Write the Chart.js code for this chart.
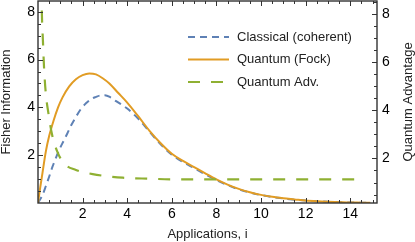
<!DOCTYPE html>
<html>
<head>
<meta charset="utf-8">
<script src="https://cdn.jsdelivr.net/npm/chart.js@4/dist/chart.umd.min.js"></script>
<style>
  html, body { margin: 0; padding: 0; background: #fff; }
</style>
</head>
<body>
<canvas id="chart" width="415" height="242"></canvas>
<script>
// values
let coherentX = [0, 0.2, 0.35, 0.5, 0.65, 0.8, 0.95, 1.15, 1.32, 1.5, 1.7, 1.9, 2.15, 2.4, 2.6, 2.8, 3.0, 3.25, 3.5, 4.0, 4.5, 5.0, 5.5, 6.0, 6.5, 7.0, 7.5, 8.0, 8.5, 9.0, 9.5, 10, 11, 12, 13, 14, 14.9];
let coherentY = [0, 0.33, 0.7, 1.1, 1.52, 1.88, 2.22, 2.6, 2.92, 3.27, 3.6, 3.9, 4.17, 4.36, 4.44, 4.5, 4.51, 4.42, 4.26, 3.95, 3.52, 2.98, 2.46, 2.02, 1.71, 1.46, 1.2, 0.96, 0.75, 0.57, 0.44, 0.33, 0.19, 0.1, 0.05, 0.02, 0.01];

let fockX = [0, 0.1, 0.2, 0.35, 0.5, 0.7, 0.9, 1.1, 1.4, 1.7, 2.0, 2.3, 2.6, 2.9, 3.2, 3.6, 4.0, 4.5, 5.0, 5.5, 6.0, 6.5, 7.0, 7.5, 8.0, 8.5, 9.0, 9.5, 10, 10.5, 11, 11.5, 12, 12.5, 13, 13.5, 14, 14.5, 14.9];
let fockY = [0, 0.65, 1.25, 2.15, 2.8, 3.45, 4.0, 4.42, 4.88, 5.18, 5.35, 5.42, 5.38, 5.22, 5.0, 4.6, 4.2, 3.62, 3.02, 2.5, 2.06, 1.76, 1.5, 1.24, 0.99, 0.77, 0.59, 0.45, 0.34, 0.26, 0.2, 0.15, 0.1, 0.07, 0.05, 0.035, 0.02, 0.015, 0.01];

let advantageX = [0.12, 0.17, 0.22, 0.27, 0.35, 0.47, 0.62, 0.87, 1.17, 1.7, 2.45, 3.0, 3.8, 4.9, 6.2, 8, 10, 12, 14, 14.6];
let advantageY = [11, 8.13, 6.9, 5.79, 4.69, 3.86, 3.03, 2.27, 1.79, 1.52, 1.35, 1.27, 1.2, 1.16, 1.13, 1.13, 1.13, 1.13, 1.13, 1.13];

let xTicks = [2, 4, 6, 8, 10, 12, 14];
let fisherTicks = [2, 4, 6, 8];
let advantageTicks = [2, 4, 6, 8];

function points(xs, ys) {
  return xs.map((x, i) => ({ x: x, y: ys[i] }));
}

// fixed axis box sizes, and no extra room reserved for the outer tick labels
function fitBox(size, horizontal) {
  return s => {
    if (horizontal) s.height = size; else s.width = size;
    s.paddingTop = 0;
    s.paddingBottom = 0;
    s.paddingLeft = 0;
    s.paddingRight = 0;
  };
}

Chart.defaults.font.family = '"Liberation Sans", Arial, sans-serif';

// Mathematica-style frame with inward ticks on all four sides
let frame = {
  id: 'frame',
  afterDatasetsDraw(chart) {
    let ctx = chart.ctx;
    let a = chart.chartArea;
    let s = chart.scales;
    ctx.save();
    ctx.strokeStyle = '#333';
    ctx.lineWidth = 1.4;
    ctx.strokeRect(a.left, a.top, a.right - a.left, a.bottom - a.top);
    ctx.lineWidth = 1;
    ctx.beginPath();
    for (let v = 0.5; v < s.x.max; v += 0.5) {
      let px = Math.round(s.x.getPixelForValue(v)) + 0.5;
      let len = v % 2 === 0 ? 5 : 3;
      ctx.moveTo(px, a.bottom); ctx.lineTo(px, a.bottom - len);
      ctx.moveTo(px, a.top); ctx.lineTo(px, a.top + len);
    }
    for (let v = 0.5; v < s.y.max; v += 0.5) {
      let py = Math.round(s.y.getPixelForValue(v)) + 0.5;
      let len = v % 2 === 0 ? 5 : 3;
      ctx.moveTo(a.left, py); ctx.lineTo(a.left + len, py);
    }
    for (let v = 0.5; v < s.y2.max; v += 0.5) {
      if (v < s.y2.min) continue;
      let py = Math.round(s.y2.getPixelForValue(v)) + 0.5;
      let len = v % 2 === 0 ? 5 : 3;
      ctx.moveTo(a.right, py); ctx.lineTo(a.right - len, py);
    }
    ctx.stroke();
    ctx.restore();
  },
  afterDraw(chart) {
    let ctx = chart.ctx;
    ctx.save();
    // right axis title reads bottom to top
    ctx.fillStyle = '#222';
    ctx.font = '13px "Liberation Sans", Arial, sans-serif';
    ctx.textAlign = 'center';
    ctx.textBaseline = 'middle';
    ctx.translate(408, 102);
    ctx.rotate(-Math.PI / 2);
    ctx.fillText('Quantum Advantage', 0, 0);
    ctx.restore();

    // legend inside the plot
    ctx.save();
    chart.data.datasets.forEach((ds, i) => {
      let y = 37 + i * 22.5;
      ctx.strokeStyle = ds.borderColor;
      ctx.lineWidth = ds.borderWidth;
      ctx.setLineDash(ds.borderDash || []);
      ctx.beginPath();
      ctx.moveTo(188, y);
      ctx.lineTo(229, y);
      ctx.stroke();
      ctx.setLineDash([]);
      ctx.fillStyle = '#222';
      ctx.font = '13px "Liberation Sans", Arial, sans-serif';
      ctx.textBaseline = 'middle';
      ctx.fillText(ds.label, 237, y);
    });
    ctx.restore();
  }
};

let chart = new Chart(document.getElementById('chart'), {
  type: 'line',
  data: {
    datasets: [{
      label: 'Classical (coherent)',
      data: points(coherentX, coherentY),
      borderColor: '#5E81B5',
      borderWidth: 2,
      borderDash: [7, 5],
      yAxisID: 'y',
      order: 2
    }, {
      label: 'Quantum (Fock)',
      data: points(fockX, fockY),
      borderColor: '#E19C24',
      borderWidth: 2,
      yAxisID: 'y',
      order: 1
    }, {
      label: 'Quantum Adv.',
      data: points(advantageX, advantageY),
      borderColor: '#8FB032',
      borderWidth: 2.2,
      borderDash: [12, 11],
      yAxisID: 'y2',
      order: 0
    }]
  },
  options: {
    responsive: false,
    animation: false,
    layout: { padding: { top: 1, right: 0, bottom: 0, left: 0 } },
    elements: {
      point: { radius: 0 },
      line: { cubicInterpolationMode: 'monotone', fill: false }
    },
    plugins: {
      legend: { display: false },
      tooltip: { enabled: false }
    },
    scales: {
      x: {
        type: 'linear',
        min: 0,
        max: 15.2,
        grid: { display: false, drawTicks: false },
        border: { display: false },
        afterBuildTicks: s => { s.ticks = xTicks.map(v => ({ value: v })); },
        afterFit: fitBox(39, true),
        ticks: { autoSkip: false, maxRotation: 0, padding: 3, color: '#000', font: { size: 14 } },
        title: { display: true, text: 'Applications, i', color: '#222', font: { size: 13 }, padding: { top: 0, bottom: 0 } }
      },
      y: {
        position: 'left',
        min: 0,
        max: 8.45,
        grid: { display: false, drawTicks: false },
        border: { display: false },
        afterBuildTicks: s => { s.ticks = fisherTicks.map(v => ({ value: v })); },
        afterFit: fitBox(38, false),
        ticks: { autoSkip: false, padding: 3, color: '#000', font: { size: 14 } },
        title: { display: true, text: 'Fisher Information', color: '#222', font: { size: 13, lineHeight: 1 }, padding: { top: 0, bottom: 0 } }
      },
      y2: {
        position: 'right',
        min: 0.15,
        max: 8.53,
        grid: { display: false, drawTicks: false },
        border: { display: false },
        afterBuildTicks: s => { s.ticks = advantageTicks.map(v => ({ value: v })); },
        afterFit: fitBox(38, false),
        ticks: { autoSkip: false, padding: 5, color: '#000', font: { size: 14 } }
      }
    }
  },
  plugins: [frame]
});
</script>
</body>
</html>
